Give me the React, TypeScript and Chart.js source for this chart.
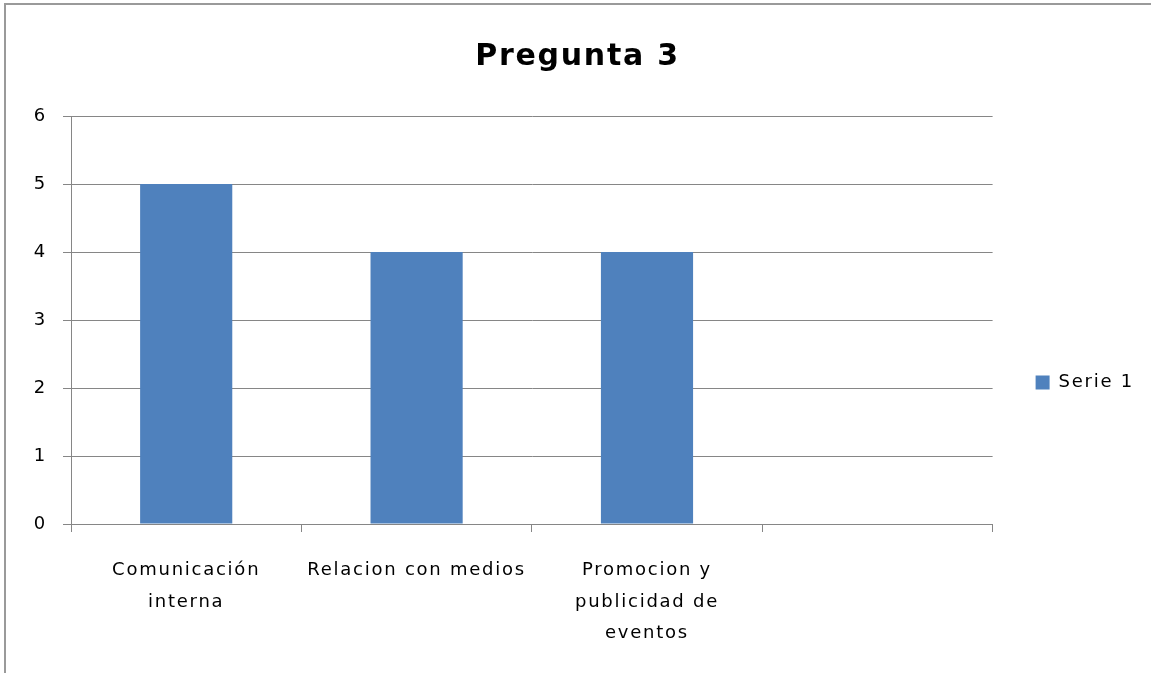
import React, { useEffect, useRef } from "react";
import { Chart, registerables } from "chart.js";

Chart.register(...registerables);

const TITLE = "Pregunta 3";
const CATEGORIES: string[][] = [
  ["Comunicación", "interna"],
  ["Relacion con medios"],
  ["Promocion y", "publicidad de", "eventos"],
  [""],
];
const SERIES_NAME = "Serie 1";
const SERIES_VALUES: (number | null)[] = [5, 4, 4, null];
const Y_MIN = 0;
const Y_MAX = 6;
const Y_STEP = 1;

const FONT = "'DejaVu Sans', 'Open Sans', sans-serif";
const GRID = "#868686";
const BAR = "#4F81BD";
const SPACING = "1.75px";

const spacingPlugin = {
  id: "letterSpacing",
  beforeUpdate(chart: any) {
    chart.ctx.letterSpacing = SPACING;
  },
  beforeDraw(chart: any) {
    chart.ctx.letterSpacing = SPACING;
  },
};

export default function App() {
  const ref = useRef<HTMLCanvasElement | null>(null);

  useEffect(() => {
    if (!ref.current) return;
    const chart = new Chart(ref.current, {
      type: "bar",
      data: {
        labels: CATEGORIES,
        datasets: [
          {
            label: SERIES_NAME,
            data: SERIES_VALUES,
            backgroundColor: BAR,
            borderWidth: 0,
            categoryPercentage: 1,
            barPercentage: 0.4,
          },
        ],
      },
      plugins: [spacingPlugin],
      options: {
        responsive: false,
        animation: false,
        layout: { padding: { left: 4, right: 13, top: 0, bottom: 29 } },
        plugins: {
          title: {
            display: true,
            text: TITLE,
            color: "#000",
            font: { family: FONT, size: 30, weight: "bold", lineHeight: 1.2 },
            padding: { top: 33, bottom: 41 },
          },
          legend: {
            display: true,
            position: "right",
            title: {
              display: true,
              text: "",
              font: { size: 12, lineHeight: 1 },
              padding: { top: 103, bottom: 0 },
            },
            labels: {
              boxWidth: 14,
              boxHeight: 14,
              padding: 43,
              color: "#000",
              font: { family: FONT, size: 18 },
            },
          },
          tooltip: { enabled: false },
        },
        scales: {
          x: {
            afterFit(scale: any) {
              scale.height = 120;
            },
            grid: {
              display: true,
              drawOnChartArea: false,
              drawTicks: true,
              tickLength: 8,
              color: GRID,
              offset: true,
            },
            border: { display: true, color: GRID },
            ticks: {
              autoSkip: false,
              maxRotation: 0,
              minRotation: 0,
              padding: 23,
              color: "#000",
              font: { family: FONT, size: 18, lineHeight: 1.75 },
            },
          },
          y: {
            min: Y_MIN,
            max: Y_MAX,
            afterFit(scale: any) {
              scale.width = 60;
            },
            grid: { color: GRID, tickLength: 8, drawTicks: true },
            border: { display: true, color: GRID },
            ticks: {
              stepSize: Y_STEP,
              padding: 16,
              color: "#000",
              font: { family: FONT, size: 18 },
            },
          },
        },
      },
    });
    return () => chart.destroy();
  }, []);

  return (
    <div
      style={{
        position: "fixed",
        left: 0,
        top: 0,
        width: 1151,
        height: 673,
        overflow: "hidden",
        background: "#fff",
      }}
    >
      <div
        style={{
          position: "absolute",
          left: 4,
          top: 3,
          width: 2000,
          height: 2000,
          borderLeft: "2px solid #9a9a9a",
          borderTop: "2px solid #9a9a9a",
        }}
      />
      <canvas
        ref={ref}
        width={1150}
        height={667}
        style={{ position: "absolute", left: 7, top: 6, width: 1150, height: 667 }}
      />
    </div>
  );
}
